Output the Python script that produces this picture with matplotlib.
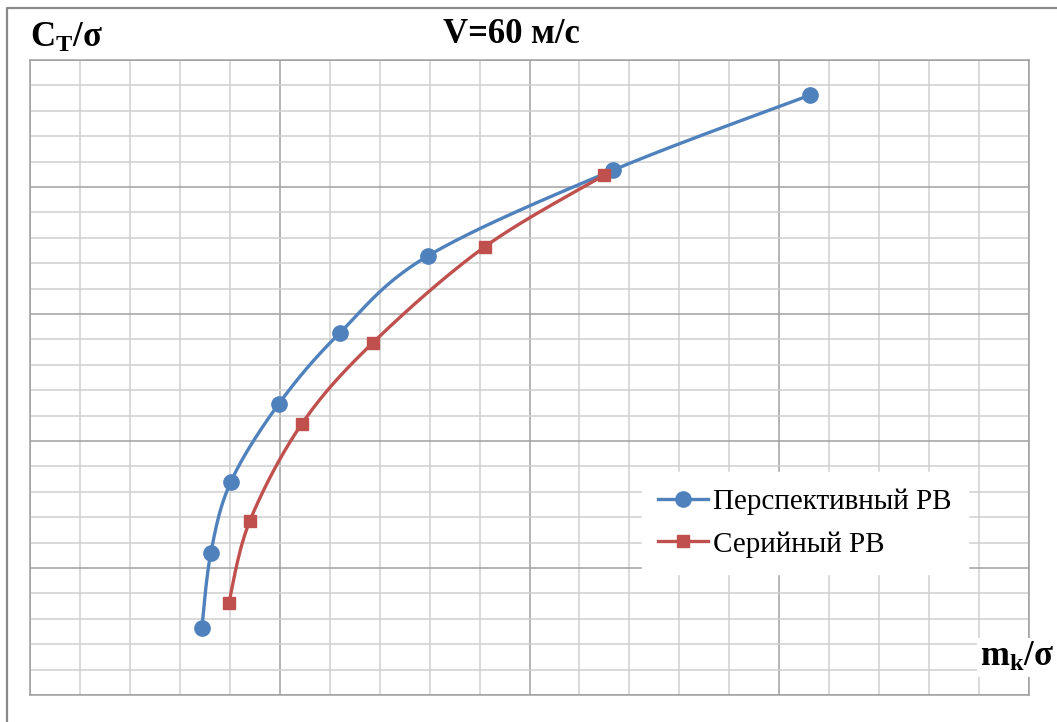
import matplotlib
matplotlib.use("Agg")
import matplotlib.pyplot as plt
from matplotlib.lines import Line2D
from matplotlib.ticker import MultipleLocator, NullFormatter
import numpy as np

plt.rcParams['font.family'] = ['Liberation Serif', 'DejaVu Serif']
plt.rcParams['mathtext.fontset'] = 'custom'
plt.rcParams['mathtext.rm'] = 'Liberation Serif:bold'
plt.rcParams['mathtext.bf'] = 'Liberation Serif:bold'
plt.rcParams['mathtext.it'] = 'Liberation Serif:bold'

# Перспективный РВ
mk_persp = [0.344, 0.362, 0.402, 0.498, 0.620, 0.796, 1.168, 1.562]
ct_persp = [0.0264, 0.0559, 0.0839, 0.1146, 0.1425, 0.1728, 0.2067, 0.2362]
# Серийный РВ
mk_serial = [0.398, 0.440, 0.544, 0.686, 0.910, 1.150]
ct_serial = [0.0362, 0.0685, 0.1067, 0.1386, 0.1764, 0.2047]

BLUE = '#4F81BD'
RED = '#C0504D'

W, H = 1057, 722


def smooth(xs, ys, sx, sy, n=40):
    # сглаживание как в Excel: кубические Безье по точкам (Catmull-Rom)
    p = np.column_stack([np.asarray(xs) * sx, np.asarray(ys) * sy])
    out = [p[0]]
    t = np.linspace(0, 1, n)[1:, None]
    for i in range(len(p) - 1):
        p0 = p[i - 1] if i > 0 else p[i]
        p1, p2 = p[i], p[i + 1]
        p3 = p[i + 2] if i + 2 < len(p) else p[i + 1]
        c1 = p1 + (p2 - p0) / 6
        c2 = p2 - (p3 - p1) / 6
        seg = ((1 - t) ** 3) * p1 + 3 * ((1 - t) ** 2) * t * c1 \
            + 3 * (1 - t) * t ** 2 * c2 + t ** 3 * p2
        out.extend(seg)
    out = np.array(out)
    return out[:, 0] / sx, out[:, 1] / sy


fig = plt.figure(figsize=(W / 100, H / 100), dpi=100)
ax = fig.add_axes([30 / W, 1 - 695 / H, 999 / W, 635 / H])
ax.set_xlim(0, 2.0)
ax.set_ylim(0, 0.25)

ax.xaxis.set_major_locator(MultipleLocator(0.5))
ax.xaxis.set_minor_locator(MultipleLocator(0.1))
ax.yaxis.set_major_locator(MultipleLocator(0.05))
ax.yaxis.set_minor_locator(MultipleLocator(0.01))
for axis in (ax.xaxis, ax.yaxis):
    axis.set_major_formatter(NullFormatter())
    axis.set_minor_formatter(NullFormatter())
ax.tick_params(which='both', length=0)
ax.grid(which='minor', color='#D0D0D0', lw=1.1)
ax.grid(which='major', color='#A0A0A0', lw=1.1)
ax.set_axisbelow(True)
for s in ax.spines.values():
    s.set_color('#A0A0A0')
    s.set_linewidth(1.1)

sx, sy = 500.0, 2540.0
xb, yb = smooth(mk_persp, ct_persp, sx, sy)
ax.plot(xb, yb, color=BLUE, lw=2.4, solid_capstyle='round', zorder=3)
ax.plot(mk_persp, ct_persp, 'o', color=BLUE, ms=11, zorder=4)
xr, yr = smooth(mk_serial, ct_serial, sx, sy)
ax.plot(xr, yr, color=RED, lw=2.4, solid_capstyle='round', zorder=3)
ax.plot(mk_serial, ct_serial, 's', color=RED, ms=9, zorder=4)

handles = [
    Line2D([], [], color=BLUE, lw=2.4, marker='o', ms=11),
    Line2D([], [], color=RED, lw=2.4, marker='s', ms=9),
]
leg = ax.legend(handles, ['Перспективный РВ', 'Серийный РВ'],
                loc='center', bbox_to_anchor=(805 / W, 1 - 523 / H),
                bbox_transform=fig.transFigure, fontsize=21,
                frameon=True, fancybox=False, framealpha=1,
                facecolor='white', edgecolor='white',
                handlelength=1.7, handletextpad=0.2, labelspacing=0.55,
                borderpad=0.55, borderaxespad=0)

fig.text(511 / W, 1 - 43 / H, 'V=60 м/с', fontsize=25, fontweight='bold',
         ha='center', va='baseline')
fig.text(30 / W, 1 - 47 / H, r'$\mathregular{C_T/σ}$', fontsize=25,
         fontweight='bold', ha='left', va='baseline')
fig.text(1017 / W, 1 - 666 / H, r'$\mathregular{m_k/σ}$', fontsize=25,
         fontweight='bold', ha='center', va='baseline',
         bbox=dict(facecolor='white', edgecolor='none', pad=2))

# рамка области диаграммы
fig.add_artist(Line2D([7 / W, 7 / W, 1.0], [0.0, 1 - 8 / H, 1 - 8 / H],
                      transform=fig.transFigure, color='#8A8A8A', lw=1.6))

fig.savefig('out.png', dpi=100)
